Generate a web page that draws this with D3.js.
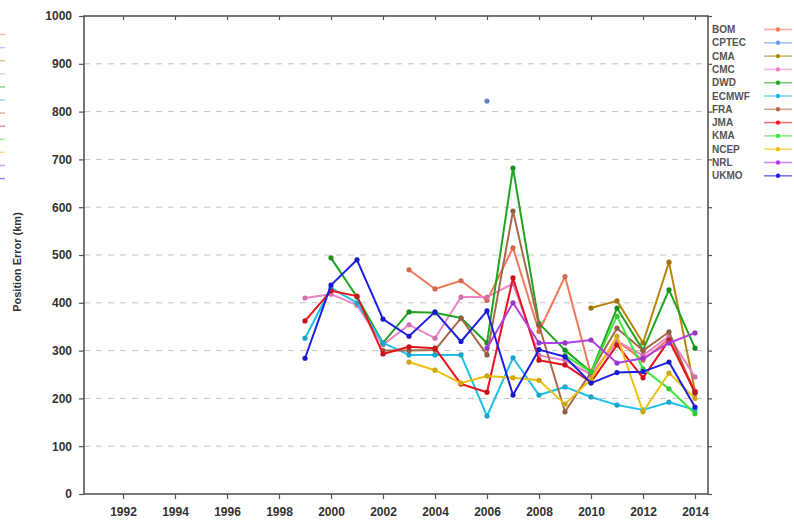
<!DOCTYPE html>
<html>
<head>
<meta charset="utf-8">
<script src="https://cdn.jsdelivr.net/npm/d3@7"></script>
<style>
  html, body { margin: 0; padding: 0; background: #fff; }
  svg { display: block; }
</style>
</head>
<body>
<svg id="svg" width="794" height="520"></svg>
<script>
// years shown on the x axis
const tickYears = [1992, 1994, 1996, 1998, 2000, 2002, 2004, 2006, 2008, 2010, 2012, 2014]
// years the series are sampled at
const years = [1999, 2000, 2001, 2002, 2003, 2004, 2005, 2006, 2007, 2008, 2009, 2010, 2011, 2012, 2013, 2014]
const yTicks = [0, 100, 200, 300, 400, 500, 600, 700, 800, 900, 1000]

const centres = ['BOM', 'CPTEC', 'CMA', 'CMC', 'DWD', 'ECMWF', 'FRA', 'JMA', 'KMA', 'NCEP', 'NRL', 'UKMO']
const colors = ['#f4785a', '#6a9be8', '#b8860b', '#ee82c8', '#1fa51f', '#1ec0e8', '#a86a4a', '#e8141e', '#3ee63e', '#f0c010', '#b040e8', '#1e1ee6']

// position error (km), 1999..2014, null = no forecast
const bom   = [null, null, null, null, 469, 429, 446, 405, 515, 340, 455, 250, 320, 280, 325, 215]
const cptec = [null, null, null, null, null, null, null, 822, null, null, null, null, null, null, null, null]
const cma   = [null, null, null, null, null, null, null, null, null, null, null, 389, 404, 316, 485, 215]
const cmc   = [410, 418, 395, 312, 354, 326, 412, 412, 440, 290, 280, 250, 320, 290, 330, 245]
const dwd   = [null, 494, 412, 316, 381, 379, 368, 316, 682, 357, 301, 255, 389, 301, 427, 305]
const ecmwf = [326, 431, 400, 316, 291, 291, 291, 163, 285, 207, 224, 203, 186, 176, 192, 176]
const fra   = [null, null, null, 300, 300, 301, 368, 291, 592, 353, 172, 255, 347, 300, 339, 210]
const jma   = [362, 425, 414, 293, 308, 305, 230, 213, 452, 280, 270, 234, 312, 243, 322, 213]
const kma   = [null, null, null, null, null, null, null, null, null, null, 290, 255, 372, 262, 220, 168]
const ncep  = [null, null, null, null, 276, 259, 232, 247, 243, 238, 188, 240, 330, 172, 253, 200]
const nrl   = [null, null, null, null, null, null, null, 305, 400, 316, 316, 322, 274, 284, 316, 337]
const ukmo  = [284, 437, 490, 366, 330, 381, 319, 383, 207, 302, 287, 232, 254, 256, 276, 182]

const seriesValues = [bom, cptec, cma, cmc, dwd, ecmwf, fra, jma, kma, ncep, nrl, ukmo]

const svg = d3.select('#svg')
const plotLeft = 84, plotRight = 708, plotTop = 16, plotBottom = 494
const labelFont = '"Liberation Sans Narrow", "Arial Narrow", "Liberation Sans", Arial, sans-serif'

const x = d3.scaleLinear().domain([1990.5, 2014.5]).range([plotLeft, plotRight])
const y = d3.scaleLinear().domain([0, 1000]).range([plotBottom, plotTop])

// dashed grid
svg.append('g')
    .selectAll('line')
    .data(yTicks.filter(d => d > 0 && d < 1000))
    .join('line')
    .attr('x1', plotLeft).attr('x2', plotRight)
    .attr('y1', d => y(d)).attr('y2', d => y(d))
    .attr('stroke', '#c4c4c4')
    .attr('stroke-width', 1)
    .attr('stroke-dasharray', '6,6')

// axes
const styleAxis = (g) => {
    g.select('.domain').remove()
    g.selectAll('line').attr('stroke', '#555').attr('stroke-width', 1.2)
    g.selectAll('text')
        .attr('font-family', labelFont)
        .attr('font-weight', 'bold')
        .attr('font-size', 12)
        .attr('fill', '#333')
}

svg.append('g')
    .attr('transform', `translate(${plotLeft},0)`)
    .call(d3.axisLeft(y).tickValues(yTicks).tickFormat(d3.format('d')).tickSize(5).tickPadding(7))
    .call(styleAxis)

svg.append('g')
    .attr('transform', `translate(${plotRight},0)`)
    .call(d3.axisLeft(y).tickValues(yTicks).tickSize(-4).tickFormat(''))
    .call(styleAxis)

svg.append('g')
    .attr('transform', `translate(0,${plotBottom})`)
    .call(d3.axisBottom(x).tickValues(tickYears).tickFormat(d3.format('d')).tickSize(5).tickPadding(8))
    .call(styleAxis)

svg.append('g')
    .attr('transform', `translate(0,${plotTop})`)
    .call(d3.axisTop(x).tickValues(tickYears).tickSize(-4).tickFormat(''))
    .call(styleAxis)

// frame
svg.append('rect')
    .attr('x', plotLeft).attr('y', plotTop)
    .attr('width', plotRight - plotLeft).attr('height', plotBottom - plotTop)
    .attr('fill', 'none')
    .attr('stroke', '#555')
    .attr('stroke-width', 1.6)

// y title
svg.append('text')
    .text('Position Error (km)')
    .attr('transform', 'translate(21,262) rotate(-90)')
    .attr('text-anchor', 'middle')
    .attr('font-family', labelFont)
    .attr('font-weight', 'bold')
    .attr('font-size', 11)
    .attr('fill', '#333')

// series lines and points
const line = d3.line()
    .defined(d => d.v != null)
    .x(d => x(d.year))
    .y(d => y(d.v))

centres.forEach((name, i) => {
    const pts = years.map((year, k) => ({ year, v: seriesValues[i][k] }))
    const g = svg.append('g').attr('class', name)

    g.append('path')
        .datum(pts)
        .attr('d', line)
        .attr('fill', 'none')
        .attr('stroke', colors[i])
        .attr('stroke-width', 2)
        .attr('stroke-linejoin', 'round')

    g.selectAll('circle')
        .data(pts.filter(d => d.v != null))
        .join('circle')
        .attr('cx', d => x(d.year))
        .attr('cy', d => y(d.v))
        .attr('r', 2.6)
        .attr('fill', d3.color(colors[i]).darker(0.4))
})

// legend (right side)
const legend = svg.append('g')
centres.forEach((name, i) => {
    const ly = 29.5 + i * 13.3
    legend.append('text')
        .text(name)
        .attr('x', 712)
        .attr('y', ly + 3.5)
        .attr('font-family', labelFont)
        .attr('font-weight', 'bold')
        .attr('font-size', 10)
        .attr('fill', '#555')
    legend.append('line')
        .attr('x1', 764).attr('x2', 792)
        .attr('y1', ly).attr('y2', ly)
        .attr('stroke', colors[i])
        .attr('stroke-opacity', 0.6)
        .attr('stroke-width', 1.6)
    legend.append('circle')
        .attr('cx', 778).attr('cy', ly)
        .attr('r', 2.2)
        .attr('fill', colors[i])
})

// cut-off legend swatches at the left edge
centres.forEach((name, i) => {
    const ly = 34.5 + i * 13.1
    svg.append('line')
        .attr('x1', 0).attr('x2', 5)
        .attr('y1', ly).attr('y2', ly)
        .attr('stroke', colors[i])
        .attr('stroke-opacity', 0.5)
        .attr('stroke-width', 1.5)
})
</script>
</body>
</html>
